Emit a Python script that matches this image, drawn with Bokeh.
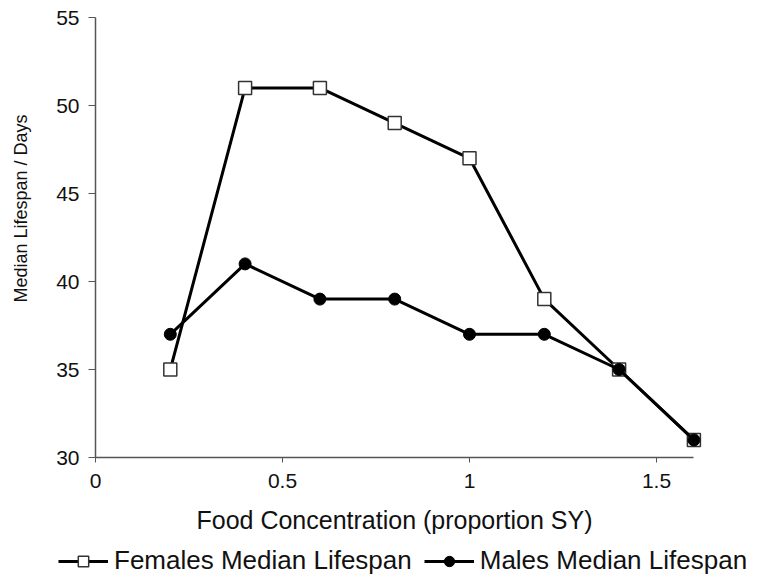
from bokeh.plotting import figure
from bokeh.models import Range1d, Legend, LegendItem, FixedTicker, CustomJSTickFormatter, Label
from bokeh.embed import file_html
from bokeh.resources import INLINE

# Food concentration (proportion of standard SY medium)
food_conc = [0.2, 0.4, 0.6, 0.8, 1.0, 1.2, 1.4, 1.6]
# Median lifespan in days
females_median = [35, 51, 51, 49, 47, 39, 35, 31]
males_median = [37, 41, 39, 39, 37, 37, 35, 31]

x_ticks = [0, 0.5, 1, 1.5]
y_ticks = [30, 35, 40, 45, 50, 55]

FONT = "Liberation Sans"
INK = "#111111"
AXIS = "#555555"

W, H = 768, 584
# the plot frame fills the whole canvas; axes are pinned at x=0 / y=30 so the
# tick labels, titles and legend all sit inside it
X0_PX, X_SCALE = 95, 374.0        # pixel of x=0, pixels per unit
Y55_PX, Y_SCALE = 17, 17.6        # pixel of y=55 (from top), pixels per day
x_range = Range1d(-X0_PX / X_SCALE, (W - X0_PX) / X_SCALE)
y_range = Range1d(55 - (H - Y55_PX) / Y_SCALE, 55 + Y55_PX / Y_SCALE)

p = figure(width=W, height=H, output_backend="svg", toolbar_location=None,
           x_range=x_range, y_range=y_range,
           min_border_left=0, min_border_right=0, min_border_top=0,
           min_border_bottom=0)
p.outline_line_color = None
p.grid.visible = False
p.background_fill_color = "white"
p.border_fill_color = "white"

p.xaxis.fixed_location = 30
p.yaxis.fixed_location = 0
p.xaxis.bounds = (0, 1.6)
p.yaxis.bounds = (30, 55)
p.xaxis.ticker = FixedTicker(ticks=x_ticks)
p.yaxis.ticker = FixedTicker(ticks=y_ticks)
p.xaxis.formatter = CustomJSTickFormatter(code="return tick.toString();")
for ax in (p.xaxis[0], p.yaxis[0]):
    ax.axis_line_color = AXIS
    ax.axis_line_width = 1.5
    ax.major_tick_line_color = AXIS
    ax.major_tick_line_width = 1
    ax.minor_tick_line_color = None
    ax.major_tick_in = 0
    ax.major_label_text_font = FONT
    ax.major_label_text_font_size = "21px"
    ax.major_label_text_color = INK

p.xaxis.major_tick_out = 5
p.yaxis.major_tick_out = 7
p.xaxis.major_label_standoff = 11
p.yaxis.major_label_standoff = 9

p.xaxis.axis_label = "Food Concentration (proportion SY)"
p.xaxis.axis_label_text_font = FONT
p.xaxis.axis_label_text_font_size = "25px"
p.xaxis.axis_label_text_font_style = "normal"
p.xaxis.axis_label_text_color = INK
p.xaxis.axis_label_standoff = 15

y_title = Label(x=20.5, y=H - 208, x_units="screen", y_units="screen",
                text="Median Lifespan / Days", angle=90, angle_units="deg",
                text_align="center", text_baseline="middle",
                text_font=FONT, text_font_size="18px", text_color=INK)
p.add_layout(y_title)

# series
LINE_STYLE = dict(line_color="black", line_width=3)
f_line = p.line(food_conc, females_median, **LINE_STYLE)
f_pts = p.scatter(food_conc, females_median, marker="square", size=13,
                  fill_color="white", line_color="#333333", line_width=1.5)
m_line = p.line(food_conc, males_median, **LINE_STYLE)
m_pts = p.scatter(food_conc, males_median, marker="circle", size=12,
                  fill_color="black", line_color="black")

legend = Legend(items=[
    LegendItem(label="Females Median Lifespan", renderers=[f_line, f_pts]),
    LegendItem(label="Males Median Lifespan", renderers=[m_line, m_pts]),
], orientation="horizontal", location=(58, 8))
legend.label_text_font = FONT
legend.label_text_font_size = "26px"
legend.label_text_color = INK
legend.glyph_width = 50
legend.glyph_height = 26
legend.label_standoff = 6
legend.spacing = 12
legend.padding = 0
legend.margin = 0
legend.border_line_color = None
legend.background_fill_alpha = 0
p.add_layout(legend)

open("out.html", "w").write(file_html(p, INLINE))
